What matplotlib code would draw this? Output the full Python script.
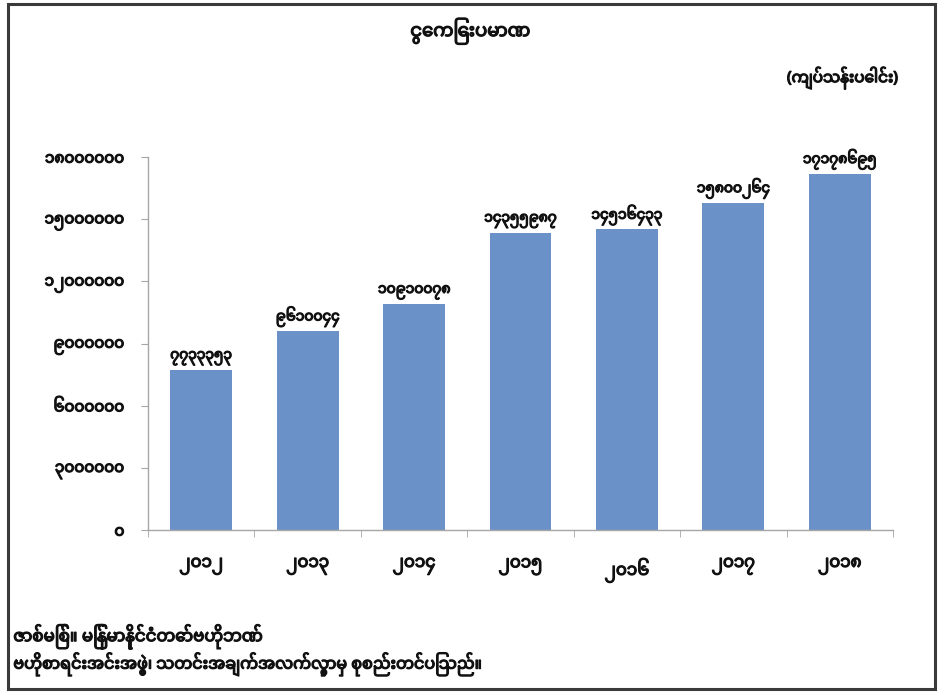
import matplotlib
matplotlib.use("Agg")
import matplotlib.pyplot as plt
from matplotlib import font_manager
from matplotlib.patches import Rectangle
import matplotlib.patheffects as pe

# ---- data ----
years = ["၂၀၁၂", "၂၀၁၃", "၂၀၁၄", "၂၀၁၅", "၂၀၁၆", "၂၀၁၇", "၂၀၁၈"]
values = [7733353, 9610044, 10910078, 14355987, 14516433, 15800264, 17178695]
value_labels = ["၇၇၃၃၃၅၃", "၉၆၁၀၀၄၄", "၁၀၉၁၀၀၇၈", "၁၄၃၅၅၉၈၇", "၁၄၅၁၆၄၃၃", "၁၅၈၀၀၂၆၄", "၁၇၁၇၈၆၉၅"]
yticks = [0, 3000000, 6000000, 9000000, 12000000, 15000000, 18000000]
ytick_labels = ["၀", "၃၀၀၀၀၀၀", "၆၀၀၀၀၀၀", "၉၀၀၀၀၀၀", "၁၂၀၀၀၀၀၀", "၁၅၀၀၀၀၀၀", "၁၈၀၀၀၀၀၀"]
title = "ငွေကြေးပမာဏ"
unit = "(ကျပ်သန်းပေါင်း)"
source1 = "ဇာစ်မြစ်။ မြန်မာနိုင်ငံတော်ဗဟိုဘဏ်"
source2 = "ဗဟိုစာရင်းအင်းအဖွဲ့၊ သတင်းအချက်အလက်လွှာမှ စုစည်းတင်ပြသည်။"

# ---- pick a font with Myanmar glyphs ----
installed = {f.name for f in font_manager.fontManager.ttflist}
preferred = ["Noto Sans Myanmar", "Noto Sans Myanmar UI", "Myanmar Sans Pro", "Myanmar Khyay"]
families = [f for f in preferred if f in installed][:1] + ["DejaVu Sans"]
plt.rcParams["font.family"] = families

TXT = "#111111"
bold = [pe.withStroke(linewidth=0.9, foreground=TXT)]

fig = plt.figure(figsize=(9.52, 6.92), dpi=100)
ax = fig.add_axes([0.1555, 0.234, 0.7825, 0.539])

x = list(range(len(years)))
ax.bar(x, values, width=0.58, color="#6b91c9", zorder=2)
for xi, v, lab in zip(x, values, value_labels):
    ax.text(xi, v + 200000, lab, ha="center", va="bottom", fontsize=10,
            fontweight="bold", color=TXT, path_effects=bold)

ax.set_xlim(-0.5, len(years) - 0.5)
ax.set_ylim(0, 18000000)
ax.set_yticks(yticks)
ax.set_yticklabels(ytick_labels, fontsize=11, fontweight="bold", color=TXT)
ax.set_xticks(x)
ax.set_xticklabels(years, fontsize=12, fontweight="bold", color=TXT)
ax.set_xticks([i - 0.5 for i in range(len(years) + 1)], minor=True)
ax.tick_params(axis="x", which="major", length=0, pad=20)
ax.tick_params(axis="x", which="minor", length=5, color="#a6a6a6", direction="out")
ax.tick_params(axis="y", length=5, color="#a6a6a6", direction="out", pad=12)
for lbl in ax.get_xticklabels() + ax.get_yticklabels():
    lbl.set_path_effects(bold)
for s in ["top", "right"]:
    ax.spines[s].set_visible(False)
for s in ["left", "bottom"]:
    ax.spines[s].set_color("#a6a6a6")
    ax.spines[s].set_linewidth(1.0)

fig.text(0.494, 0.955, title, ha="center", va="center", fontsize=13,
         fontweight="bold", color=TXT, path_effects=bold)
fig.text(0.885, 0.887, unit, ha="center", va="center", fontsize=11,
         fontweight="bold", color=TXT, path_effects=bold)
fig.text(0.014, 0.080, source1, ha="left", va="center", fontsize=12,
         fontweight="bold", color=TXT, path_effects=bold)
fig.text(0.014, 0.040, source2, ha="left", va="center", fontsize=11.5,
         fontweight="bold", color=TXT, path_effects=bold)

fig.add_artist(Rectangle((0.0085, 0.004), 0.9735, 0.990, transform=fig.transFigure,
                         fill=False, edgecolor="#3a3a3a", linewidth=2.2))

fig.savefig("out.png", dpi=100)
